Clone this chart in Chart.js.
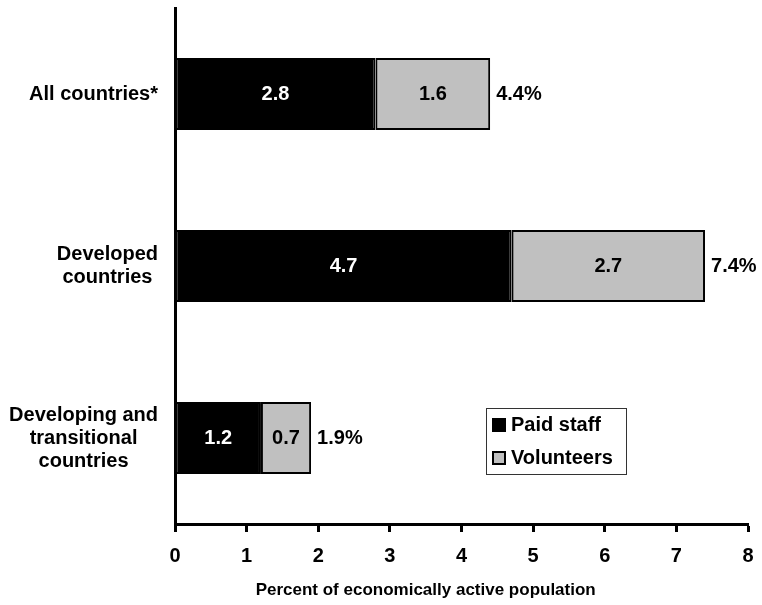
<!DOCTYPE html>
<html>
<head>
<meta charset="utf-8">
<script src="https://cdn.jsdelivr.net/npm/chart.js@4.4.1/dist/chart.umd.min.js"></script>
<style>
  html, body { margin: 0; padding: 0; background: #fff; }
</style>
</head>
<body>
<canvas id="myChart" width="762" height="605"></canvas>
<script>
const categories = [['All countries*'], ['Developed', 'countries'], ['Developing and', 'transitional', 'countries']];
const paid_staff = [2.8, 4.7, 1.2];
const volunteers = [1.6, 2.7, 0.7];
const series_names = ['Paid staff', 'Volunteers'];
const axis_title = 'Percent of economically active population';

const FONT = "'Liberation Sans', Arial, sans-serif";

// draws category labels, bar values, totals, axis title and the boxed legend
const labelPlugin = {
  id: 'labelPlugin',
  afterDatasetsDraw(chart) {
    const ctx = chart.ctx;
    const left = chart.chartArea.left;
    const xs = chart.scales.x, ys = chart.scales.y;
    ctx.save();
    ctx.font = 'bold 20px ' + FONT;
    ctx.textBaseline = 'middle';
    ctx.fillStyle = '#000';

    // category labels: block right aligned, lines centred
    ctx.textAlign = 'center';
    chart.data.labels.forEach((lines, i) => {
      const y = ys.getPixelForTick(i);
      const w = Math.max(...lines.map(l => ctx.measureText(l).width));
      const cx = left - 17 - w / 2;
      lines.forEach((l, k) => ctx.fillText(l, cx, y + (k - (lines.length - 1) / 2) * 23));
    });

    // values inside the bars
    chart.data.datasets.forEach((ds, d) => {
      chart.getDatasetMeta(d).data.forEach((bar, i) => {
        ctx.fillStyle = d === 0 ? '#fff' : '#000';
        ctx.fillText(ds.data[i].toFixed(1), (bar.x + bar.base) / 2, bar.y);
      });
    });

    // totals at the end
    ctx.textAlign = 'left';
    ctx.fillStyle = '#000';
    chart.getDatasetMeta(1).data.forEach((bar, i) => {
      const total = paid_staff[i] + volunteers[i];
      ctx.fillText(total.toFixed(1) + '%', bar.x + 6, bar.y);
    });

    // axis title
    ctx.font = 'bold 17px ' + FONT;
    ctx.textAlign = 'center';
    ctx.fillText(axis_title, xs.getPixelForValue(3.5), chart.height - 15);

    // legend box
    const lg = { x: 486, y: 408, w: 140, h: 66 };
    ctx.strokeStyle = '#333';
    ctx.lineWidth = 1;
    ctx.strokeRect(lg.x + 0.5, lg.y + 0.5, lg.w, lg.h);
    ctx.font = 'bold 20px ' + FONT;
    ctx.textAlign = 'left';
    chart.data.datasets.forEach((ds, d) => {
      const cy = lg.y + 17 + d * 33;
      ctx.fillStyle = ds.backgroundColor;
      ctx.fillRect(lg.x + 6, cy - 7, 14, 14);
      ctx.strokeStyle = '#000';
      ctx.lineWidth = 2;
      ctx.strokeRect(lg.x + 7, cy - 6, 12, 12);
      ctx.fillStyle = '#000';
      ctx.fillText(ds.label, lg.x + 25, cy);
    });
    ctx.restore();
  }
};

const data = {
  labels: categories,
  datasets: [
    {
      label: series_names[0],
      data: paid_staff,
      backgroundColor: '#000000',
      borderColor: '#000000',
      borderWidth: 2,
      borderSkipped: false,
      barPercentage: 0.42,
      categoryPercentage: 1
    },
    {
      label: series_names[1],
      data: volunteers,
      backgroundColor: '#c0c0c0',
      borderColor: '#000000',
      borderWidth: 2,
      borderSkipped: false,
      barPercentage: 0.42,
      categoryPercentage: 1
    }
  ]
};

const config = {
  type: 'bar',
  data,
  options: {
    responsive: false,
    animation: false,
    indexAxis: 'y',
    layout: { padding: { top: 8, right: 14, bottom: 25, left: 10 } },
    plugins: {
      legend: { display: false },
      tooltip: { enabled: false }
    },
    scales: {
      x: {
        stacked: true,
        min: 0,
        max: 8,
        ticks: {
          stepSize: 1,
          color: '#000',
          padding: 12,
          font: { family: FONT, size: 20, weight: 'bold' }
        },
        grid: {
          drawOnChartArea: false,
          drawTicks: true,
          tickLength: 8,
          tickWidth: 3,
          tickColor: '#000'
        },
        border: { display: true, color: '#000', width: 3 },
        afterFit: (scale) => { scale.paddingRight = 0; scale.paddingLeft = 0; }
      },
      y: {
        stacked: true,
        ticks: { display: false },
        grid: { display: false },
        border: { display: true, color: '#000', width: 3 },
        afterFit: (scale) => { scale.width = 165; }
      }
    }
  },
  plugins: [labelPlugin]
};

new Chart(document.getElementById('myChart'), config);
</script>
</body>
</html>
